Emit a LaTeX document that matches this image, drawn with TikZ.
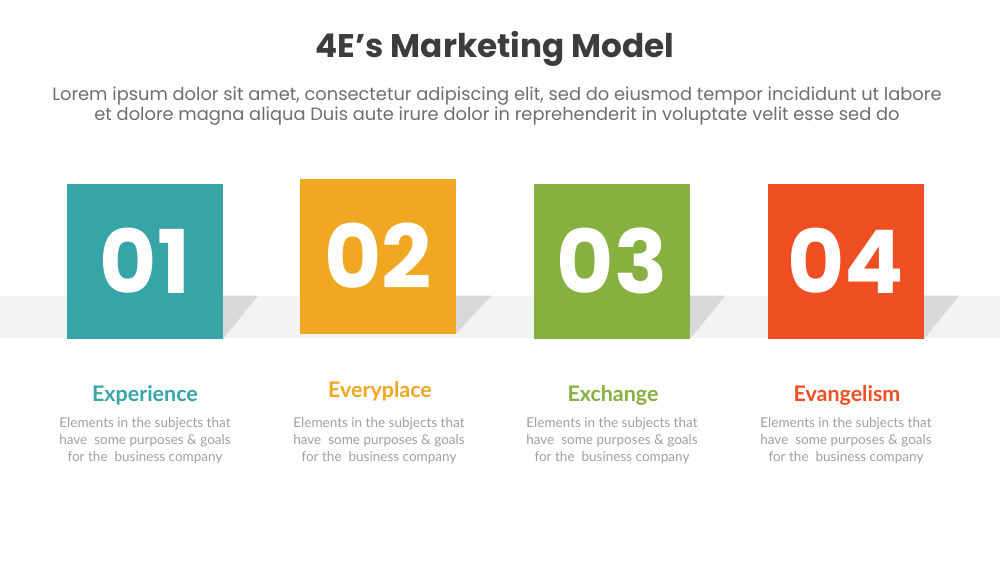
\documentclass[tikz,border=0pt]{standalone}
\usepackage{fontspec}
\setmainfont{Poppins}
\newfontfamily\latofont{Lato}
\definecolor{titlegray}{HTML}{3C3C3C}
\definecolor{subgray}{HTML}{6E6E6E}
\definecolor{descgray}{HTML}{A0A0A0}
\definecolor{bandgray}{HTML}{F2F3F5}
\definecolor{shadegray}{HTML}{D9D9DB}
\definecolor{eteal}{HTML}{37A4A8}
\definecolor{eorange}{HTML}{F0A722}
\definecolor{egreen}{HTML}{86B03F}
\definecolor{ered}{HTML}{EF4E23}
\begin{document}
\begin{tikzpicture}[
x=0.2mm,y=-0.2mm,
numbox/.style={%
minimum width=31.1mm,
minimum height=31mm,
inner sep=0pt,
text=white,
font=\fontsize{50}{50}\selectfont\bfseries
},
head/.style={%
anchor=base,
font=\latofont\bfseries\fontsize{12.2}{14}\selectfont
},
desc/.style={%
anchor=base,
text=descgray,
font=\latofont\fontsize{7.7}{9.7}\selectfont
},
shade/.style={fill=shadegray}
]
\useasboundingbox[fill=white](0,0)rectangle(1000,563);
%% Title
\node[anchor=base,text=titlegray,font=\fontsize{18.6}{22}\selectfont\bfseries]at(495,57)(title){4E’s Marketing Model};
\node[anchor=base,text=subgray,font=\fontsize{10.15}{12}\selectfont]at(497,100)(sub1){Lorem ipsum dolor sit amet, consectetur adipiscing elit, sed do eiusmod tempor incididunt ut labore};
\node[anchor=base,text=subgray,font=\fontsize{10.15}{12}\selectfont]at(497,120)(sub2){et dolore magna aliqua Duis aute irure dolor in reprehenderit in voluptate velit esse sed do};
%% Band
\node[fill=bandgray,minimum width=200mm,minimum height=8.4mm,inner sep=0pt]at(500,317)(band){};
%% Squares
\node[numbox,fill=eteal]at(145,261)(s1){01};
\node[numbox,fill=eorange]at(378,256)(s2){02};
\node[numbox,fill=egreen]at(612,261)(s3){03};
\node[numbox,fill=ered]at(846,261)(s4){04};
%% Shadows
\fill[shade](s1.south east|-band.north)--++(35,0)--(s1.south east)--cycle;
\fill[shade](s2.south east|-band.north)--++(35,0)--(s2.south east)--cycle;
\fill[shade](s3.south east|-band.north)--++(35,0)--(s3.south east)--cycle;
\fill[shade](s4.south east|-band.north)--++(35,0)--(s4.south east)--cycle;
%% Headings
\node[head,text=eteal]at(145,401)(h1){Experience};
\node[head,text=eorange]at(380,397)(h2){Everyplace};
\node[head,text=egreen]at(613,401)(h3){Exchange};
\node[head,text=ered]at(847,401)(h4){Evangelism};
%% Descriptions
\node[desc]at(145,427)(d1a){Elements in the subjects that};
\node[desc]at(145,444)(d1b){have\ \ some purposes \& goals};
\node[desc]at(145,461)(d1c){for the\ \ business company};
\node[desc]at(379,427)(d2a){Elements in the subjects that};
\node[desc]at(379,444)(d2b){have\ \ some purposes \& goals};
\node[desc]at(379,461)(d2c){for the\ \ business company};
\node[desc]at(612,427)(d3a){Elements in the subjects that};
\node[desc]at(612,444)(d3b){have\ \ some purposes \& goals};
\node[desc]at(612,461)(d3c){for the\ \ business company};
\node[desc]at(846,427)(d4a){Elements in the subjects that};
\node[desc]at(846,444)(d4b){have\ \ some purposes \& goals};
\node[desc]at(846,461)(d4c){for the\ \ business company};
\end{tikzpicture}
\end{document}
